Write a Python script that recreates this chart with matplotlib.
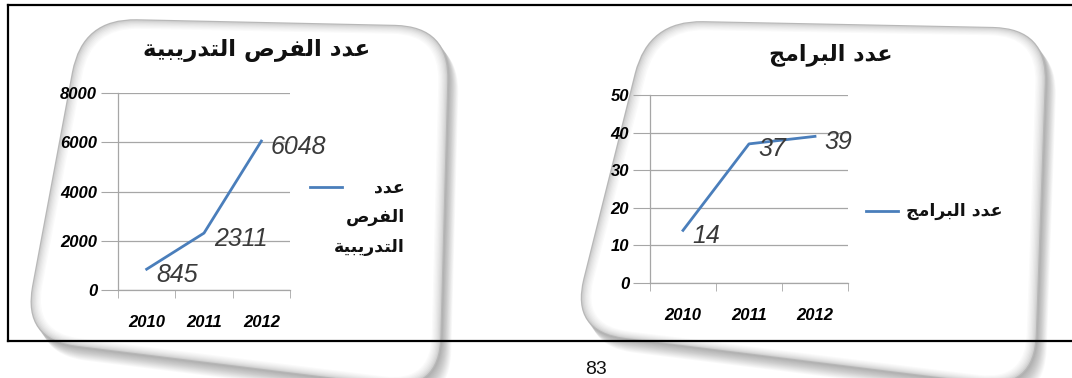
import matplotlib
matplotlib.use("Agg")
import matplotlib.pyplot as plt
import numpy as np
from matplotlib.path import Path
from matplotlib.patches import PathPatch
from matplotlib.ticker import FixedLocator

# data
years = ["2010", "2011", "2012"]
trainees = [845, 2311, 6048]
programs = [14, 37, 39]
title_trainees = "عدد الفرص التدريبية"
title_programs = "عدد البرامج"
legend_trainees = ["عدد", "الفرص", "التدريبية"]
legend_programs = "عدد البرامج"
page_number = "83"

# arabic presentation forms: isolated, final, initial, medial
FORMS = {
    "ع": "\uFEC9\uFECA\uFECB\uFECC",
    "د": "\uFEA9\uFEAA",
    "ا": "\uFE8D\uFE8E",
    "ل": "\uFEDD\uFEDE\uFEDF\uFEE0",
    "ف": "\uFED1\uFED2\uFED3\uFED4",
    "ر": "\uFEAD\uFEAE",
    "ص": "\uFEB9\uFEBA\uFEBB\uFEBC",
    "ت": "\uFE95\uFE96\uFE97\uFE98",
    "ي": "\uFEF1\uFEF2\uFEF3\uFEF4",
    "ب": "\uFE8F\uFE90\uFE91\uFE92",
    "ة": "\uFE93\uFE94",
    "م": "\uFEE1\uFEE2\uFEE3\uFEE4",
    "ج": "\uFE9D\uFE9E\uFE9F\uFEA0",
}


def shape(text):
    out = []
    for i, ch in enumerate(text):
        if ch not in FORMS:
            out.append(ch)
            continue
        f = FORMS[ch]
        prev = text[i - 1] if i > 0 else ""
        nxt = text[i + 1] if i + 1 < len(text) else ""
        jp = prev in FORMS and len(FORMS[prev]) == 4
        jn = len(f) == 4 and nxt in FORMS
        if jp and jn:
            out.append(f[3])
        elif jp:
            out.append(f[1])
        elif jn:
            out.append(f[2])
        else:
            out.append(f[0])
    return "".join(out)[::-1]


W, H = 1072, 378
fig = plt.figure(figsize=(W / 100, H / 100), dpi=100)
fig.patch.set_facecolor("white")

bg = fig.add_axes([0, 0, 1, 1])
bg.set_xlim(0, W)
bg.set_ylim(H, 0)
bg.axis("off")

# page frame
bg.plot([8, 8], [5, 341], color="black", lw=1.6)
bg.plot([8, W], [5, 5], color="black", lw=1.6)
bg.plot([8, W], [341, 341], color="black", lw=1.6)


def rounded(corners, r):
    c = np.array(corners, float)
    verts, codes = [], []
    n = len(c)
    for i in range(n):
        p = c[i]
        a = c[i - 1]
        b = c[(i + 1) % n]
        pa = p + (a - p) / np.linalg.norm(a - p) * r
        pb = p + (b - p) / np.linalg.norm(b - p) * r
        verts.append(pa)
        codes.append(Path.MOVETO if i == 0 else Path.LINETO)
        verts += [p, pb]
        codes += [Path.CURVE3, Path.CURVE3]
    verts.append(verts[0])
    codes.append(Path.CLOSEPOLY)
    return Path(verts, codes)


def shrink(corners, k):
    c = np.array(corners, float)
    cen = c.mean(axis=0)
    d = cen - c
    d = d / np.linalg.norm(d, axis=1)[:, None]
    return c + d * k * 1.41


def card(corners):
    c = np.array(corners, float)
    for k in range(14, 0, -1):
        bg.add_patch(PathPatch(rounded(c + [k * 0.7, k * 1.0], 55), fc="#000000",
                               ec="none", alpha=0.025))
    steps = 9
    for k in range(steps):
        g = 0.72 + 0.28 * (k / (steps - 1)) ** 0.5
        bg.add_patch(PathPatch(rounded(shrink(c, k * 1.2), 55 - k),
                               fc=(g, g, g), ec="none"))


card([(82, 18), (450, 26), (440, 392), (22, 340)])
card([(648, 20), (1048, 28), (1035, 390), (570, 332)])

bg.text(596, 361, page_number, ha="center", va="top", fontsize=14,
        family="Liberation Sans", color="#111111")

blue = "#4a7ebb"
grid = "#a6a6a6"
tick_font = dict(family="Liberation Sans", weight="bold", style="italic", size=12)


def chart(rect, values, ymax, ystep, title, tpos, tsize, legend_lines, legend_pos, text_right):
    ax = fig.add_axes(rect)
    ax.patch.set_alpha(0)
    x = np.arange(len(years))
    ax.plot(x, values, color=blue, lw=2)
    ax.set_xlim(-0.5, len(years) - 0.5)
    ax.set_ylim(0, ymax)
    ax.set_yticks(np.arange(0, ymax + 1, ystep))
    ax.set_xticks(x)
    ax.set_xticklabels(years, fontdict=tick_font)
    ax.set_yticklabels([str(v) for v in np.arange(0, ymax + 1, ystep)], fontdict=tick_font)
    ax.xaxis.set_minor_locator(FixedLocator(np.arange(-0.5, len(years), 1.0)))
    ax.tick_params(axis="x", which="major", length=0, pad=18)
    ax.tick_params(axis="x", which="minor", length=6, color=grid, direction="out")
    ax.tick_params(axis="y", length=12, color=grid, pad=3)
    ax.grid(axis="y", color=grid, lw=0.9)
    for s in ["top", "right"]:
        ax.spines[s].set_visible(False)
    for s in ["left", "bottom"]:
        ax.spines[s].set_color(grid)
        ax.spines[s].set_linewidth(0.9)
    for xi, v in zip(x, values):
        ax.annotate(str(v), (xi, v), xytext=(7, -4), textcoords="offset points",
                    ha="left", va="center", fontsize=18, style="italic",
                    family="Liberation Sans", color="#3a3a3a")
    bg.text(tpos[0], tpos[1], shape(title), ha="center", va="center",
            fontsize=tsize, weight="bold", family="DejaVu Sans", color="#111111")
    lx, ly = legend_pos
    bg.plot([lx, lx + 32], [ly, ly], color=blue, lw=2)
    for i, t in enumerate(legend_lines):
        bg.text(text_right, ly + i * 30, shape(t), ha="right", va="center",
                fontsize=12.5, weight="bold", family="DejaVu Sans", color="#111111")
    return ax


chart([118 / W, 1 - 290 / H, 172 / W, 197 / H], trainees, 8000, 2000,
      title_trainees, (257, 50), 16.5, legend_trainees, (310, 187), 405)
chart([650 / W, 1 - 283 / H, 198 / W, 188 / H], programs, 50, 10,
      title_programs, (831, 55), 16, [legend_programs], (866, 211), 1002)
bg.set_zorder(0)

fig.savefig("out.png", dpi=100)
